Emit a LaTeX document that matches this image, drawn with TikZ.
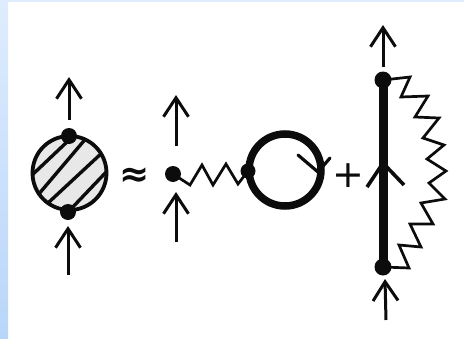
\documentclass[tikz,border=0pt]{standalone}
\usepackage{fontspec}
\newfontfamily\symfont{DejaVu Sans}
\usetikzlibrary{arrows.meta}
\definecolor{inkc}{HTML}{0C0C0C}
\definecolor{bandtop}{HTML}{DFECFD}
\definecolor{bandbot}{HTML}{B9D6F9}
\tikzset{
  dotn/.style={circle,fill=inkc,draw=none,inner sep=0pt,minimum size=#1},
  flowarrow/.style={draw=inkc,line width=3pt,-{Straight Barb[length=19pt,width=25pt,line width=3pt]}},
  spring/.style={draw=inkc,line width=2.7pt,line join=miter},
  hatchline/.style={draw=inkc,line width=3.4pt},
  bigsym/.style={inner sep=0pt,text=inkc},
}
\begin{document}
\begin{tikzpicture}[x=1pt,y=-1pt]
\useasboundingbox (0,0) rectangle (464,338);
\fill[white] (0,0) rectangle (464,338);
\shade[top color=bandtop,bottom color=bandbot,draw=none] (0,0) rectangle (8,338);
\fill[bandtop] (8,0) rectangle (464,2.2);

% hatched blob
\coordinate (blobc) at (69.5,173);
\fill[black!9] (blobc) circle (37);
\begin{scope}
\clip (blobc) circle (37);
\draw[hatchline] (30,177)--(68,141);
\draw[hatchline] (38,195)--(88,136);
\draw[hatchline] (48,203)--(104,151);
\draw[hatchline] (70,210)--(110,168);
\end{scope}
\draw[draw=inkc,line width=3.8pt] (blobc) circle (37);
\node[dotn=16pt] (btop) at (69,136) {};
\node[dotn=16pt] (bbot) at (68,212) {};
\coordinate (a1s) at (69,120); \coordinate (a1e) at (69,77);
\coordinate (a2s) at (68,275); \coordinate (a2e) at (68,226);
\draw[flowarrow] (a1s) -- (a1e);
\draw[flowarrow] (a2s) -- (a2e);

\node[bigsym,font=\symfont\bfseries\fontsize{36}{36}\selectfont] (approx) at (135,177) {≈};

% second term
\node[dotn=16pt] (d1) at (173,174) {};
\node[dotn=15pt] (d2) at (248,171) {};
\coordinate (a3s) at (176,146); \coordinate (a3e) at (176,95);
\coordinate (a4s) at (176,242); \coordinate (a4e) at (176,192);
\draw[flowarrow] (a3s) -- (a3e);
\draw[flowarrow] (a4s) -- (a4e);
\draw[spring] (d1.center) -- (190,185) -- (202,165) -- (213,185) -- (226,164) -- (238,184) -- (d2.center);
\draw[draw=inkc,line width=7.5pt] (285,170) circle (36);
\coordinate (looptip) at (318,172);
\draw[draw=inkc,line width=3.2pt,line cap=round] (298,155) -- (looptip) -- (330,158);

\node[bigsym,font=\symfont\fontsize{38}{38}\selectfont] (plus) at (348,176) {+};

% third term
\node[dotn=17pt] (t1) at (383,80) {};
\node[dotn=17pt] (t2) at (383,267) {};
\draw[draw=inkc,line width=9pt] (t1.center) -- (t2.center);
\coordinate (midtip) at (383,163);
\draw[draw=inkc,line width=3.6pt,line join=miter] (367,187) -- (midtip) -- (404,185);
\coordinate (a5s) at (383,67); \coordinate (a5e) at (383,25);
\coordinate (a6s) at (386,320); \coordinate (a6e) at (385,279);
\draw[flowarrow] (a5s) -- (a5e);
\draw[flowarrow] (a6s) -- (a6e);
\draw[spring] (t1.center) -- (410,77) -- (401,97) -- (428,96) -- (415,117) -- (439,118) -- (423,138) -- (444,145) -- (427,159) -- (446,171) -- (429,183) -- (445,199) -- (421,203) -- (433,224) -- (410,224) -- (421,247) -- (399,245) -- (409,268) -- (t2.center);
\end{tikzpicture}
\end{document}
